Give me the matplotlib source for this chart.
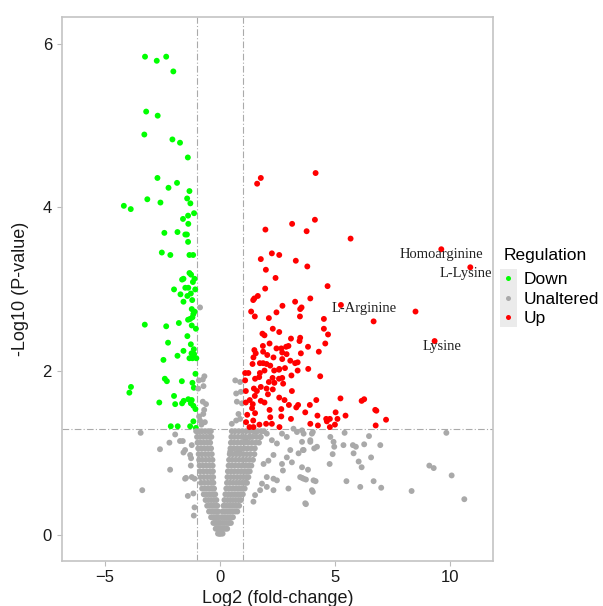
import matplotlib
matplotlib.use('Agg')
import numpy as np
from matplotlib import pyplot as plt
from matplotlib.lines import Line2D
from matplotlib.patches import Rectangle

##################################################################################
### DATA
##################################################################################

# significantly down-regulated features (log2 fc, -log10 p)
down_pts = [
    (-3.25, 5.84), (-2.74, 5.79), (-2.33, 5.84), (-2.02, 5.66), (-3.20, 5.17), (-2.70, 5.12),
    (-3.28, 4.89), (-2.06, 4.83), (-1.73, 4.79), (-1.39, 4.61), (-2.71, 4.36), (-1.86, 4.30),
    (-2.23, 4.24), (-1.32, 4.20), (-3.15, 4.10), (-2.58, 4.06), (-1.42, 4.11), (-1.28, 4.05),
    (-4.17, 4.02), (-3.87, 3.98), (-1.12, 3.93), (-1.38, 3.90), (-1.60, 3.86), (-1.37, 3.80),
    (-2.41, 3.69), (-1.84, 3.70), (-1.50, 3.67), (-1.43, 3.67), (-1.38, 3.58), (-2.52, 3.45),
    (-2.15, 3.42), (-1.32, 3.42), (-1.16, 3.42), (-1.32, 3.20), (-1.25, 3.18), (-1.58, 3.13),
    (-1.64, 3.12), (-1.10, 3.13), (-1.17, 3.09), (-1.37, 3.02), (-1.50, 3.02), (-1.07, 3.00),
    (-1.99, 3.00), (-1.26, 2.95), (-1.71, 2.94), (-1.41, 2.92), (-1.20, 2.87), (-1.58, 2.85),
    (-1.22, 2.76), (-1.10, 2.73), (-1.15, 2.70), (-1.19, 2.66), (-1.29, 2.64), (-1.38, 2.63),
    (-3.26, 2.57), (-2.33, 2.55), (-1.78, 2.59), (-1.22, 2.56), (-1.04, 2.52), (-1.41, 2.43),
    (-2.25, 2.35), (-1.26, 2.33), (-1.13, 2.27), (-1.58, 2.25), (-1.23, 2.22), (-1.84, 2.19),
    (-1.12, 2.21), (-1.32, 2.16), (-1.19, 2.16), (-1.02, 2.16), (-2.45, 2.14), (-1.06, 1.97),
    (-2.39, 1.91), (-2.30, 1.88), (-1.65, 1.88), (-1.19, 1.86), (-3.86, 1.81), (-3.93, 1.74),
    (-1.13, 1.80), (-1.99, 1.70), (-2.63, 1.62), (-1.94, 1.60), (-1.64, 1.61), (-1.57, 1.64),
    (-1.37, 1.66), (-1.22, 1.65), (-1.26, 1.61), (-1.15, 1.58), (-1.06, 1.54), (-2.13, 1.33),
    (-1.83, 1.33), (-1.29, 1.33), (-1.04, 1.31), (-1.15, 1.39),
]

# significantly up-regulated features
up_pts = [
    (4.16, 4.42), (1.78, 4.36), (1.62, 4.29), (3.14, 3.80), (4.13, 3.85), (1.98, 3.73),
    (3.77, 3.71), (5.68, 3.62), (2.26, 3.44), (2.58, 3.42), (1.78, 3.37), (3.30, 3.35),
    (3.80, 3.28), (2.00, 3.24), (2.42, 3.14), (4.68, 3.04), (1.97, 3.01), (1.65, 2.92),
    (1.50, 2.89), (1.45, 2.87), (3.93, 2.89), (3.27, 2.85), (2.72, 2.80), (3.55, 2.78),
    (3.49, 2.76), (1.36, 2.73), (2.46, 2.72), (1.52, 2.67), (3.48, 2.67), (2.13, 2.65),
    (4.52, 2.64), (4.52, 2.52), (2.30, 2.52), (2.58, 2.48), (4.70, 2.45), (1.85, 2.46),
    (1.94, 2.44), (3.09, 2.40), (3.49, 2.41), (3.46, 2.37), (4.58, 2.34), (1.87, 2.31),
    (2.16, 2.34), (2.46, 2.28), (2.67, 2.28), (2.88, 2.30), (2.98, 2.31), (1.50, 2.26),
    (1.56, 2.22), (1.88, 2.24), (2.71, 2.23), (2.90, 2.21), (3.52, 2.22), (3.83, 2.30),
    (4.30, 2.24), (1.46, 2.17), (2.06, 2.20), (2.33, 2.17), (2.71, 2.15), (3.06, 2.13),
    (3.38, 2.11), (1.42, 2.09), (1.74, 2.10), (1.88, 2.10), (2.03, 2.09), (2.19, 2.07),
    (2.58, 2.03), (2.83, 2.04), (3.27, 2.10), (3.84, 2.03), (1.10, 1.98), (1.24, 1.98),
    (1.74, 1.98), (1.94, 2.01), (2.36, 2.01), (2.57, 2.02), (3.11, 1.95), (3.38, 2.01),
    (4.36, 1.94), (1.10, 1.89), (1.53, 1.91), (1.71, 1.93), (2.29, 1.92), (2.57, 1.91),
    (2.71, 1.92), (2.13, 1.87), (2.37, 1.86), (2.75, 1.85), (1.78, 1.81), (1.48, 1.79),
    (2.03, 1.79), (2.30, 1.78), (1.13, 1.76), (1.61, 1.76), (3.13, 1.76), (1.52, 1.70),
    (2.09, 1.72), (1.30, 1.65), (1.78, 1.64), (2.58, 1.68), (2.81, 1.65), (5.24, 1.67),
    (6.16, 1.64), (6.27, 1.66), (1.13, 1.62), (1.43, 1.60), (1.94, 1.62), (3.91, 1.59),
    (4.19, 1.65), (3.40, 1.59), (3.00, 1.59), (3.32, 1.56), (1.40, 1.55), (2.16, 1.53),
    (2.67, 1.54), (3.71, 1.50), (6.75, 1.53), (1.53, 1.49), (1.19, 1.47), (2.19, 1.44),
    (2.67, 1.45), (3.09, 1.42), (4.24, 1.46), (5.03, 1.50), (5.46, 1.46), (4.62, 1.42),
    (4.78, 1.42), (5.11, 1.42), (7.22, 1.41), (1.14, 1.38), (1.45, 1.40), (1.72, 1.35),
    (2.01, 1.36), (2.26, 1.36), (2.59, 1.32), (3.93, 1.36), (4.26, 1.34), (4.78, 1.32),
    (6.77, 1.34), (1.46, 1.32), (1.29, 1.32), (9.62, 3.49), (10.88, 3.27), (5.26, 2.81),
    (8.50, 2.73), (6.68, 2.61), (9.33, 2.37), (6.80, 1.52), (4.65, 1.39), (5.00, 1.35),
]

# not significant features, left arm of the V (x values per -log10 p row)
v_left_rows = {
    1.27: [-1.03, -0.90, -0.78, -0.64, -0.50, -0.39],
    1.20: [-0.99, -0.86, -0.72, -0.58, -0.45, -0.37],
    1.13: [-0.97, -0.83, -0.69, -0.55, -0.42],
    1.06: [-0.94, -0.80, -0.66, -0.52, -0.38],
    0.99: [-0.92, -0.78, -0.63, -0.49, -0.35],
    0.92: [-0.90, -0.76, -0.61, -0.46, -0.32],
    0.85: [-0.88, -0.73, -0.59, -0.44, -0.31],
    0.78: [-0.86, -0.71, -0.56, -0.42, -0.30],
    0.71: [-0.84, -0.69, -0.54, -0.40, -0.29],
    0.64: [-0.82, -0.67, -0.52, -0.38, -0.28],
    0.57: [-0.77, -0.63, -0.49, -0.36, -0.25],
    0.50: [-0.70, -0.57, -0.44, -0.31, -0.20],
    0.43: [-0.62, -0.50, -0.38, -0.26, -0.15],
    0.36: [-0.55, -0.43, -0.32, -0.21, -0.11],
    0.29: [-0.47, -0.36, -0.26, -0.16, -0.08],
    0.22: [-0.38, -0.28, -0.19, -0.11, -0.05],
    0.15: [-0.28, -0.20, -0.12, -0.04],
    0.08: [-0.18, -0.11, -0.04],
    0.02: [-0.08, -0.02],
}

# right arm of the V
v_right_rows = {
    1.27: [0.52, 0.66, 0.82, 0.98, 1.14, 1.30, 1.47, 1.64, 1.80, 1.92],
    1.20: [0.50, 0.64, 0.79, 0.95, 1.11, 1.27, 1.43, 1.60, 1.78],
    1.13: [0.48, 0.62, 0.77, 0.92, 1.08, 1.24, 1.40, 1.56, 1.70],
    1.06: [0.46, 0.60, 0.75, 0.90, 1.05, 1.20, 1.36, 1.52],
    0.99: [0.43, 0.57, 0.72, 0.87, 1.02, 1.17, 1.32, 1.50],
    0.92: [0.40, 0.54, 0.69, 0.84, 0.99, 1.14, 1.29, 1.44],
    0.85: [0.38, 0.52, 0.66, 0.81, 0.96, 1.10, 1.24, 1.37],
    0.78: [0.35, 0.49, 0.63, 0.78, 0.92, 1.06, 1.19, 1.30],
    0.71: [0.33, 0.47, 0.61, 0.75, 0.89, 1.02, 1.14, 1.24],
    0.64: [0.31, 0.44, 0.58, 0.72, 0.85, 0.98, 1.10, 1.18],
    0.57: [0.28, 0.41, 0.55, 0.68, 0.81, 0.94, 1.08],
    0.50: [0.24, 0.37, 0.50, 0.63, 0.76, 0.88, 1.00],
    0.43: [0.20, 0.33, 0.45, 0.57, 0.69, 0.81, 0.92],
    0.36: [0.16, 0.28, 0.40, 0.51, 0.62, 0.73, 0.84],
    0.29: [0.11, 0.22, 0.34, 0.45, 0.56, 0.67, 0.76],
    0.22: [0.07, 0.17, 0.27, 0.37, 0.47, 0.57],
    0.15: [0.04, 0.13, 0.22, 0.31, 0.40, 0.48],
    0.08: [0.02, 0.10, 0.18, 0.25, 0.32],
    0.02: [0.00, 0.06, 0.12],
}

# the other not significant features
unaltered_pts = [
    # small fold-change but p < 0.05
    (-0.86, 2.78), (-0.67, 1.94), (-0.91, 1.89), (-0.74, 1.90), (-0.71, 1.82), (-0.94, 1.79),
    (-0.60, 1.60), (-0.74, 1.63), (-0.68, 1.53), (-0.72, 1.48), (-0.86, 1.40), (-0.80, 1.35),
    (-0.65, 1.38), (-0.90, 1.45), (0.67, 1.89), (0.88, 1.87), (0.71, 1.73), (0.91, 1.75),
    (0.74, 1.63), (0.96, 1.61), (0.81, 1.48), (0.71, 1.40), (0.52, 1.36), (0.88, 1.42),
    # scattered, left
    (-3.44, 1.25), (-2.60, 1.05), (-2.16, 0.80), (-3.37, 0.55), (-2.19, 1.13), (-1.94, 1.23),
    (-1.73, 1.15), (-1.61, 1.15), (-1.58, 1.01), (-1.22, 1.10), (-1.25, 0.94), (-1.26, 0.85),
    (-1.47, 0.70), (-1.10, 0.69), (-1.39, 0.48), (-1.10, 0.34), (-1.13, 0.24), (-1.51, 1.04),
    (-1.51, 0.69), (-1.22, 0.71), (-1.15, 0.51), (-1.29, 0.98),
    # scattered, right
    (0.45, 1.02), (0.71, 1.00), (0.88, 1.04), (1.10, 1.16), (1.32, 1.20), (1.53, 1.26),
    (1.75, 1.20), (2.04, 1.24), (2.26, 1.16), (2.48, 1.12), (2.70, 1.24), (2.91, 1.20),
    (3.20, 1.30), (3.35, 1.26), (3.57, 1.28), (3.93, 1.16), (4.00, 1.24), (4.22, 1.08),
    (3.64, 1.04), (3.42, 1.00), (3.06, 1.04), (2.91, 0.95), (3.13, 0.89), (2.70, 0.87),
    (2.33, 0.98), (2.11, 0.91), (1.90, 0.87), (2.74, 0.79), (2.33, 0.69), (2.04, 0.71),
    (1.83, 0.63), (2.48, 0.67), (2.98, 0.57), (3.49, 0.71), (3.64, 0.69), (4.07, 0.67),
    (4.00, 0.55), (3.71, 0.39), (1.75, 0.55), (1.53, 0.49), (1.46, 0.41), (2.04, 0.59),
    (2.33, 0.55), (3.64, 1.24), (3.57, 1.14), (3.61, 1.04), (3.93, 1.14), (4.10, 1.06),
    (4.04, 1.26), (4.80, 1.20), (4.94, 1.14), (4.97, 1.08), (4.90, 0.99), (4.77, 0.87),
    (5.42, 1.25), (5.37, 1.10), (5.78, 1.10), (5.91, 1.08), (5.81, 1.00), (6.27, 1.11),
    (6.48, 1.21), (6.97, 1.10), (6.57, 0.95), (6.03, 0.90), (6.16, 0.83), (3.57, 0.83),
    (3.83, 0.80), (3.57, 0.70), (3.74, 0.68), (4.16, 0.66), (4.04, 0.53), (3.74, 0.38),
    (5.50, 0.66), (6.10, 0.59), (6.68, 0.66), (7.01, 0.58), (8.33, 0.54), (9.10, 0.85),
    (9.29, 0.82), (10.07, 0.73), (10.62, 0.44), (9.84, 1.25),
]

# labelled metabolites: name, text x, text y
label_names = ['Homoarginine', 'L-Lysine', 'L-Arginine', 'Lysine']
label_x = [9.61, 10.67, 6.27, 9.64]
label_y = [3.43, 3.19, 2.77, 2.30]

fc_cut = 1.0
p_cut = -np.log10(0.05)

groups = ['Down', 'Unaltered', 'Up']
group_cols = ['#00ff00', '#a9a9a9', '#ff0000']

##################################################################################
### COLLECT THE GREY V INTO ONE LIST
##################################################################################

for rows in (v_left_rows, v_right_rows):
    for yv, xs in rows.items():
        unaltered_pts += [(xv, yv) for xv in xs]

group_pts = [down_pts, unaltered_pts, up_pts]

##################################################################################
### PLOT
##################################################################################

plt.rcParams['font.family'] = ['Liberation Sans', 'DejaVu Sans']

fig = plt.figure(figsize=(6.03, 6.06), dpi=100)
ax = fig.add_axes([0.1023, 0.0748, 0.7158, 0.8966])

for name, pts, col in zip(groups, group_pts, group_cols):
    arr = np.array(pts)
    ax.scatter(arr[:, 0], arr[:, 1], s=18, color=col, edgecolors='none', zorder=3)

for name, tx, ty in zip(label_names, label_x, label_y):
    ax.text(tx, ty, name, ha='center', va='center', fontsize=10.5,
            family=['Liberation Serif', 'DejaVu Serif'], color='#222222', zorder=4)

dash = (0, (6, 2, 1, 2))
ax.axvline(-fc_cut, color='#aaaaaa', lw=0.8, ls=dash, zorder=2)
ax.axvline(fc_cut, color='#aaaaaa', lw=0.8, ls=dash, zorder=2)
ax.axhline(p_cut, color='#aaaaaa', lw=0.8, ls=dash, zorder=2)

ax.set_xlim(-6.87, 11.88)
ax.set_ylim(-0.31, 6.32)
ax.set_xticks([-5, 0, 5, 10])
ax.set_yticks([0, 2, 4, 6])

for sp in ax.spines.values():
    sp.set_color('#c4c4c4')
    sp.set_linewidth(1.2)
ax.tick_params(colors='#bbbbbb', labelcolor='#1a1a1a', labelsize=12, length=3.5, width=0.8)

ax.set_xlabel('Log2 (fold-change)', fontsize=13, color='#1a1a1a', labelpad=3)
ax.set_ylabel('-Log10 (P-value)', fontsize=13, color='#1a1a1a', labelpad=10)

# legend with grey key background like ggplot
fig.patches.append(Rectangle((500 / 603, 1 - 327 / 606), 17 / 603, 58 / 606,
                             transform=fig.transFigure, facecolor='#ebebeb',
                             edgecolor='none', zorder=0.5))
handles = [Line2D([], [], ls='none', marker='o', markersize=3.6, color=c,
                  markeredgewidth=0) for c in group_cols]
leg = fig.legend(handles, groups, title='Regulation', loc='upper left',
                 bbox_to_anchor=(0.824, 0.6016), frameon=False, fontsize=12.5,
                 title_fontsize=12.5, handlelength=0.5, handletextpad=0.65,
                 labelspacing=0.26, borderaxespad=0)
leg._legend_box.align = 'left'
leg._legend_box.sep = 6.2  # a bit more room under the title

fig.savefig('out.png', dpi=100)
